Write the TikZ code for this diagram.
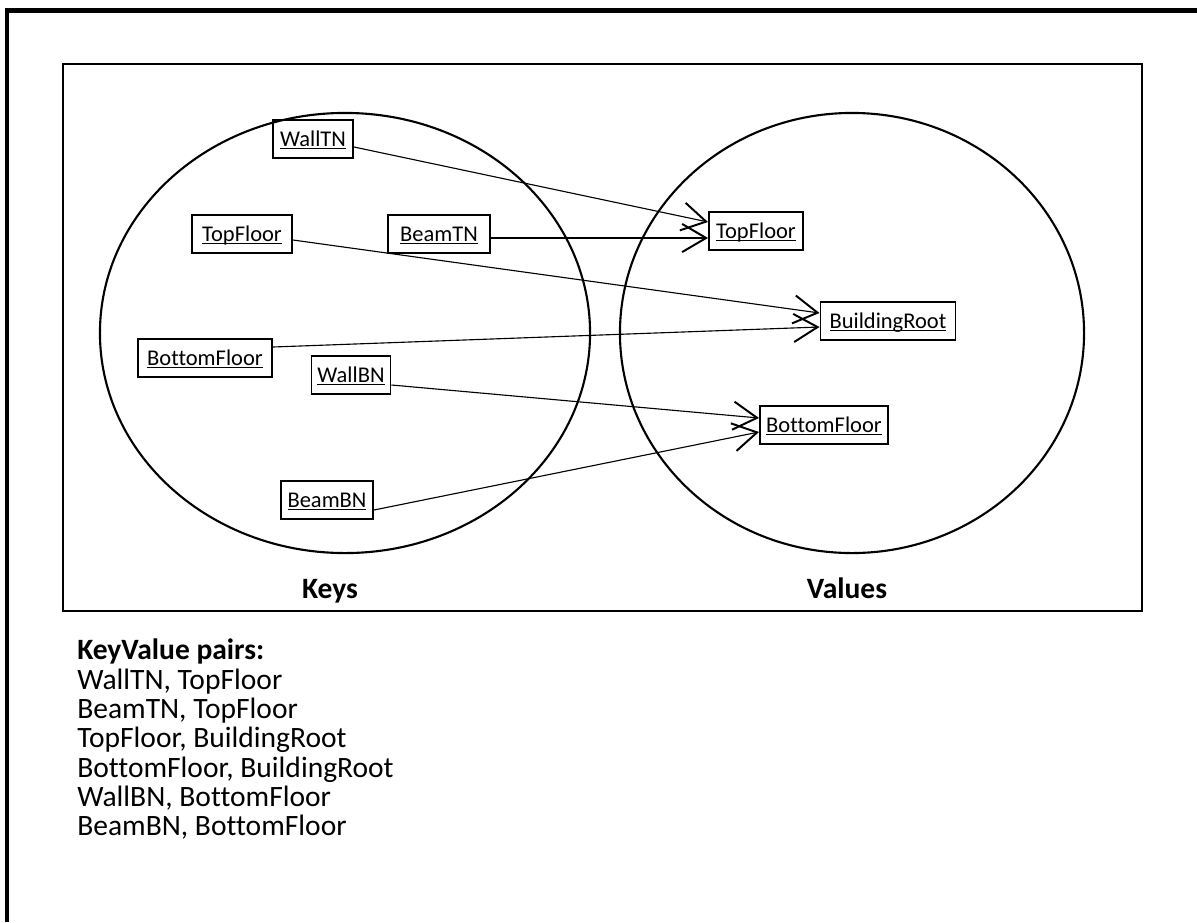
\documentclass[tikz,border=0pt]{standalone}
\usepackage{fontspec}
\setmainfont{Carlito}[Ligatures=NoCommon]
\usetikzlibrary{arrows.meta,calc}
% underlined label: box spans cap height down to the underline, text set a little lower
\newcommand{\ulab}[1]{\raisebox{-1.4pt}[0pt][0pt]{\underline{\smash{#1}}}\vphantom{\underline{\smash{T}}}\vphantom{T}}

\begin{document}
\begin{tikzpicture}[x=0.025cm,y=-0.025cm,
  keybox/.style={draw, line width=1.4pt, font=\fontsize{16}{19}\selectfont,
                 minimum height={38*0.025cm}, inner sep=0pt},
  link/.style={line width=0.8pt,
               -{Straight Barb[length=17pt,width=20pt,line width=1.4pt]}},
  setcirc/.style={line width=1.5pt},
  setlabel/.style={anchor=base, font=\fontsize{21}{25}\selectfont\bfseries, inner sep=0pt},
  pairline/.style={anchor=base west, font=\fontsize{21}{25}\selectfont, inner sep=0pt}]

\useasboundingbox (0,0) rectangle (1197,922);

% page frame (top and left edges)
\draw[line width=2.9pt] (7,922) -- (7,10.5) -- (1197,10.5);

% diagram frame
\draw[line width=1.8pt] (63,64) rectangle (1142,611);

% the two sets
\draw[setcirc] (345,333) ellipse [x radius=6.125cm, y radius=5.5cm];
\draw[setcirc] (852,333) ellipse [x radius=5.8cm, y radius=5.5cm];

% keys
\node[keybox, minimum width={80*0.025cm}]  (wallTN)  at (313,139) {\ulab{WallTN}};
\node[keybox, minimum width={100*0.025cm}] (topK)    at (242,234) {\ulab{TopFloor}};
\node[keybox, minimum width={102*0.025cm}] (beamTN)  at (439,234) {\ulab{BeamTN}};
\node[keybox, minimum width={134*0.025cm}] (bottomK) at (205,358) {\ulab{BottomFloor}};
\node[keybox, minimum width={79*0.025cm}]  (wallBN)  at (351,375) {\ulab{WallBN}};
\node[keybox, minimum width={92*0.025cm}]  (beamBN)  at (327,500) {\ulab{BeamBN}};

% values
\node[keybox, minimum width={94*0.025cm}]  (topV)    at (756,231) {\ulab{TopFloor}};
\node[keybox, minimum width={135*0.025cm}] (rootV)   at (888,321) {\ulab{BuildingRoot}};
\node[keybox, minimum width={128*0.025cm}] (bottomV) at (824,425) {\ulab{BottomFloor}};

% key -> value links
\draw[link] ($(wallTN.east)+(0,8)$)   -- ($(topV.west)+(0,-9)$);
\draw[link] ($(beamTN.east)+(0,4)$)   -- ($(topV.west)+(0,7)$);
\draw[link] ($(topK.east)+(0,6)$)     -- ($(rootV.west)+(0,-8)$);
\draw[link] ($(bottomK.east)+(0,-11)$) -- ($(rootV.west)+(0,6)$);
\draw[link] ($(wallBN.east)+(0,10)$)  -- ($(bottomV.west)+(0,-7)$);
\draw[link] ($(beamBN.east)+(0,10)$)  -- ($(bottomV.west)+(0,7)$);

% set captions
\node[setlabel] (keysLbl) at (330,598) {Keys};
\node[setlabel] (valsLbl) at (847,598) {Values};

% list of pairs
\node[pairline, font=\fontsize{21}{25}\selectfont\bfseries] (hdr) at (77,659) {KeyValue pairs:};
\node[pairline] (p1) at (77,689) {WallTN, TopFloor};
\node[pairline] (p2) at (77,718) {BeamTN, TopFloor};
\node[pairline] (p3) at (77,747) {TopFloor, BuildingRoot};
\node[pairline] (p4) at (77,777) {BottomFloor, BuildingRoot};
\node[pairline] (p5) at (77,806) {WallBN, BottomFloor};
\node[pairline] (p6) at (77,835) {BeamBN, BottomFloor};
\end{tikzpicture}
\end{document}
